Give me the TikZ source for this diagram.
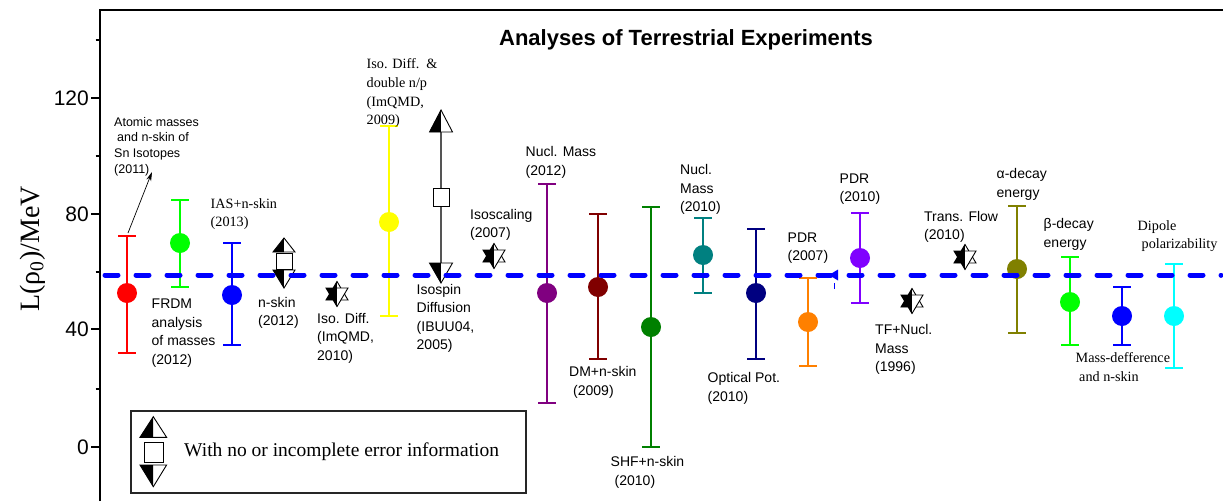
\documentclass[tikz,border=0pt]{standalone}
\usepackage{fontspec}
\setmainfont{Liberation Serif}
\setsansfont{Liberation Sans}
\usetikzlibrary{arrows.meta}
\definecolor{cred}{RGB}{255,0,0}
\definecolor{clime}{RGB}{0,255,0}
\definecolor{cblue}{RGB}{0,0,255}
\definecolor{cyel}{RGB}{255,255,0}
\definecolor{cpurp}{RGB}{128,0,128}
\definecolor{cmaroon}{RGB}{128,0,0}
\definecolor{cgreen}{RGB}{0,128,0}
\definecolor{cteal}{RGB}{0,128,128}
\definecolor{cnavy}{RGB}{0,0,128}
\definecolor{corange}{RGB}{255,128,0}
\definecolor{cviolet}{RGB}{128,0,255}
\definecolor{colive}{RGB}{128,128,0}
\definecolor{ccyan}{RGB}{0,255,255}
\definecolor{cgray}{RGB}{85,85,85}
\tikzset{
  lab/.style={anchor=north west, inner sep=0, align=left, font={\sffamily\fontsize{14}{18.5}\selectfont}},
  slab/.style={anchor=north west, inner sep=0, align=left, font={\rmfamily\fontsize{14.2}{18.7}\selectfont}},
  ticklab/.style={anchor=east, inner sep=0, font={\sffamily\fontsize{21}{21}\selectfont}},
  dot/.style={circle, minimum size=20pt, inner sep=0},
  bar/.style={line width=1.25pt},
}
% triangle: x, apex y, base y, half width ; left half black
\newcommand{\mytri}[4]{%
  \fill[black] (#1,#2) -- (#1-#4,#3) -- (#1,#3) -- cycle;
  \fill[white] (#1,#2) -- (#1+#4,#3) -- (#1,#3) -- cycle;
  \draw[black, line width=0.9pt, line join=miter] (#1,#2) -- (#1-#4,#3) -- (#1+#4,#3) -- cycle;}
\newcommand{\mystar}[2]{%
  \mytri{#1}{#2-12.5}{#2+6}{11}
  \mytri{#1}{#2+12.5}{#2-6}{11}}
% error bar: name, colour, x, y, top, bottom
\newcommand{\ebar}[6]{%
  \draw[#2, bar] (#3-9,#5) -- (#3+9,#5) (#3,#5) -- (#3,#6) (#3-9,#6) -- (#3+9,#6);
  \node[dot, fill=#2] (#1) at (#3,#4) {};}
\begin{document}
\begin{tikzpicture}[x=1pt, y=-1pt]
\useasboundingbox[fill=white] (0,0) rectangle (1223,501);
% axes
\draw[line width=2pt] (100,501) -- (100,10) -- (1223,10);
\foreach \yy/\lab in {98.3/120, 214/80, 329.3/40, 446.7/0}{
  \draw[line width=2pt] (91,\yy) -- (100,\yy);
  \node[ticklab] at (89,\yy+0.3) {\lab};
}
\foreach \yy in {40,156.3,272,388.5}{
  \draw[line width=2pt] (95.5,\yy) -- (100,\yy);
}
\node[rotate=90, anchor=base, inner sep=0, font={\rmfamily\fontsize{28}{28}\selectfont}] (ylab) at (39,249) {L(ρ\textsubscript{0})/MeV};
\node[anchor=base, inner sep=0, font={\sffamily\bfseries\fontsize{22}{22}\selectfont}] (title) at (686,45) {Analyses of Terrestrial Experiments};

% data with error bars
\ebar{p1}{cred}{127}{293}{236}{353}
\ebar{p2}{clime}{180}{243}{200}{287}
\ebar{p3}{cblue}{232}{295}{243}{345}
\ebar{p6}{cyel}{389}{222}{126}{316}
\ebar{p9}{cpurp}{547}{293}{184}{403}
\ebar{p10}{cmaroon}{598}{287}{214}{359}
\ebar{p11}{cgreen}{651}{327}{207}{447}
\ebar{p12}{cteal}{703}{255}{218}{293}
\ebar{p13}{cnavy}{756}{293}{229}{359}
\ebar{p14}{corange}{808}{322}{278}{366}
\ebar{p16}{cviolet}{860}{258}{213}{303}
\ebar{p19}{colive}{1017}{269}{206}{333}
\ebar{p20}{clime}{1070}{302}{257}{345}
\ebar{p21}{cblue}{1122}{316}{287}{345}
\ebar{p22}{ccyan}{1174}{316}{264}{368}

% n-skin (2012) marker
\mytri{284}{238}{252}{11}
\filldraw[fill=white, draw=black, line width=0.9pt] (276,253) rectangle (292,269);
\mytri{284}{288}{270}{11}

% isospin diffusion arrow marker
\draw[cgray, line width=2pt] (441,131) -- (441,264);
\mytri{441}{110}{132}{11.5}
\filldraw[fill=white, draw=black, line width=0.9pt] (433,188) rectangle (449,206);
\mytri{441}{283}{263}{11.5}

% star markers
\mystar{337}{294}
\mystar{494}{256}
\mystar{912}{301}
\mystar{965}{257}

% labels
\node[lab, font={\sffamily\fontsize{12.5}{15.7}\selectfont}] (l1) at (114,117) {Atomic masses\\\hspace*{3pt}and n-skin of\\Sn Isotopes\\(2011)};
\coordinate (a1) at (152,172);
\draw[-{Stealth[length=9pt,width=5pt]}, line width=0.7pt] (128,233) -- (a1);
\node[slab] (l2) at (210.5,198) {IAS+n-skin\\(2013)};
\node[lab] (l3) at (151.5,299) {FRDM\\analysis\\of masses\\(2012)};
\node[lab] (l4) at (258,297) {n-skin\\(2012)};
\node[lab] (l5) at (317,313) {Iso. Diff.\\(ImQMD,\\2010)};
\node[slab] (l6) at (366.5,58.5) {Iso. Diff.~~\&\\double n/p\\(ImQMD,\\2009)};
\node[lab] (l7) at (416.5,284) {Isospin\\Diffusion\\(IBUU04,\\2005)};
\node[lab] (l8) at (470,209) {Isoscaling\\(2007)};
\node[lab] (l9) at (525.5,146.5) {Nucl. Mass\\(2012)};
\node[lab] (l10) at (569,366.5) {DM+n-skin\\\hspace*{4pt}(2009)};
\node[lab] (l11) at (610.5,456.5) {SHF+n-skin\\\hspace*{4pt}(2010)};
\node[lab] (l12) at (680,164.5) {Nucl.\\Mass\\(2010)};
\node[lab] (l13) at (707.5,372.5) {Optical Pot.\\(2010)};
\node[lab] (l14) at (787.5,232.5) {PDR\\(2007)};
\node[lab] (l15) at (839.5,173.5) {PDR\\(2010)};
\node[lab] (l16) at (875,324.5) {TF+Nucl.\\Mass\\(1996)};
\node[lab] (l17) at (924,211) {Trans. Flow\\(2010)};
\node[lab] (l18) at (996.5,168.5) {α-decay\\energy};
\node[lab] (l19) at (1043.5,218.5) {β-decay\\energy};
\node[slab] (l20) at (1137.5,220) {Dipole\\\hspace*{4pt}polarizability};
\node[slab] (l21) at (1075.5,352.5) {Mass-defference\\\hspace*{3.5pt}and n-skin};

% legend
\draw[line width=1.2pt, draw=black!85] (131,411) rectangle (526,493);
\mytri{153.3}{416.7}{437.3}{13.3}
\filldraw[fill=white, draw=black, line width=0.9pt] (144,442) rectangle (163,462);
\mytri{153.3}{486.7}{465}{13.3}
\node[anchor=west, inner sep=0, font={\rmfamily\fontsize{19.5}{19.5}\selectfont}] (legtext) at (184,452) {With no or incomplete error information};

% reference line
\draw[cblue, line width=5pt, line cap=round, dash pattern=on 13pt off 18pt, dash phase=-3pt] (102,275) -- (1221,275);
\fill[cblue] (829,275) -- (838,269.5) -- (838,280.5) -- cycle;
\draw[cblue, line width=1pt] (834,283) -- (834,289);
\end{tikzpicture}
\end{document}
